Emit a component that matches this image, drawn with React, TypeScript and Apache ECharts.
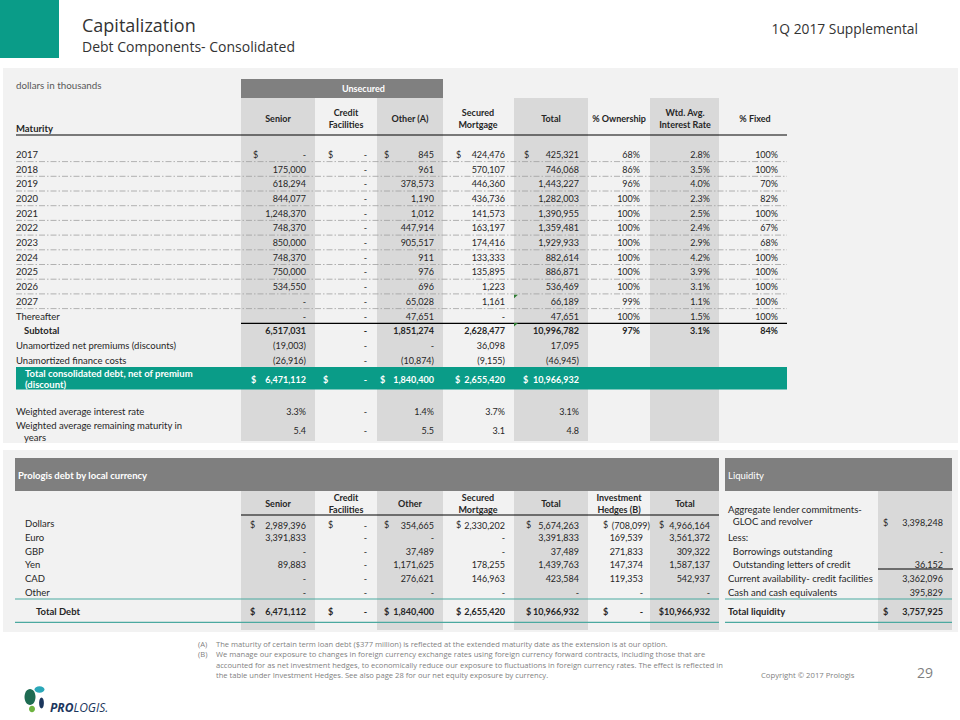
import React, { useEffect, useRef } from "react";
import * as echarts from "echarts";

// ---------------- DATA ----------------
const maturities = ["2017", "2018", "2019", "2020", "2021", "2022", "2023", "2024", "2025", "2026", "2027", "Thereafter"];
const seniorByYear = [0, 175000, 618294, 844077, 1248370, 748370, 850000, 748370, 750000, 534550, 0, 0];
const creditByYear = [0, 0, 0, 0, 0, 0, 0, 0, 0, 0, 0, 0];
const otherByYear = [845, 961, 378573, 1190, 1012, 447914, 905517, 911, 976, 696, 65028, 47651];
const securedByYear = [424476, 570107, 446360, 436736, 141573, 163197, 174416, 133333, 135895, 1223, 1161, 0];
const totalByYear = [425321, 746068, 1443227, 1282003, 1390955, 1359481, 1929933, 882614, 886871, 536469, 66189, 47651];
const ownershipPct = [68, 86, 96, 100, 100, 100, 100, 100, 100, 100, 99, 100];
const interestRatePct = [2.8, 3.5, 4.0, 2.3, 2.5, 2.4, 2.9, 4.2, 3.9, 3.1, 1.1, 1.5];
const fixedPct = [100, 100, 70, 82, 100, 67, 68, 100, 100, 100, 100, 100];

const subtotalValues = [6517031, 0, 1851274, 2628477, 10996782];
const subtotalPcts = [97, 3.1, 84];
const netPremiums = [-19003, 0, 0, 36098, 17095];
const financeCosts = [-26916, 0, -10874, -9155, -46945];
const totalConsolidated = [6471112, 0, 1840400, 2655420, 10966932];
const wtdInterestRate = [3.3, 0, 1.4, 3.7, 3.1];
const wtdRemainingMaturity = [5.4, 0, 5.5, 3.1, 4.8];

const topHeaders = [["Senior"], ["Credit", "Facilities"], ["Other (A)"], ["Secured", "Mortgage"], ["Total"], ["% Ownership"], ["Wtd. Avg.", "Interest Rate"], ["% Fixed"]];

const currencies = ["Dollars", "Euro", "GBP", "Yen", "CAD", "Other"];
const curSenior = [2989396, 3391833, 0, 89883, 0, 0];
const curCredit = [0, 0, 0, 0, 0, 0];
const curOther = [354665, 0, 37489, 1171625, 276621, 0];
const curSecured = [2330202, 0, 0, 178255, 146963, 0];
const curTotal = [5674263, 3391833, 37489, 1439763, 423584, 0];
const curHedges = [-708099, 169539, 271833, 147374, 119353, 0];
const curNetTotal = [4966164, 3561372, 309322, 1587137, 542937, 0];
const totalDebtRow = [6471112, 0, 1840400, 2655420, 10966932, 0, 10966932];
const bottomHeaders = [["Senior"], ["Credit", "Facilities"], ["Other"], ["Secured", "Mortgage"], ["Total"], ["Investment", "Hedges (B)"], ["Total"]];

const liquidityLabels = [["Aggregate lender commitments-", "  GLOC and revolver"], ["Less:"], ["  Borrowings outstanding"], ["  Outstanding letters of credit"], ["Current availability- credit facilities"], ["Cash and cash equivalents"]];
const liquidityValues: (number | null)[] = [3398248, null, 0, 36152, 3362096, 395829];
const totalLiquidity = 3757925;

const footnotes = [
  ["(A)", ["The maturity of certain term loan debt ($377 million) is reflected at the extended maturity date as the extension is at our option."]],
  ["(B)", [
    "We manage our exposure to changes in foreign currency exchange rates using foreign currency forward contracts, including those that are",
    "accounted for as net investment hedges, to economically reduce our exposure to fluctuations in foreign currency rates. The effect is reflected in",
    "the table under Investment Hedges. See also page 28 for our net equity exposure by currency.",
  ]],
] as [string, string[]][];

// ---------------- STYLE ----------------
const FONT = "Lato";
const INK = "#262626";
const TEAL = "#0A9C88";
const SHADE = "#D9D9D9";
const PANEL = "#F2F2F2";
const DARK = "#808080";
const LBL = 9.5;

function fmtNum(v: number): string {
  if (v === 0) return "-";
  const s = Math.abs(v).toLocaleString("en-US");
  return v < 0 ? `(${s})` : s;
}

function txt(text: string, x: number, y: number, o: any = {}): any {
  const align = o.align || "left";
  return {
    type: "text",
    x,
    y,
    silent: true,
    z: 10,
    style: {
      text,
      fill: o.fill || INK,
      fontSize: o.size || 9,
      fontFamily: o.family || FONT,
      fontWeight: o.bold ? "bold" : "normal",
      fontStyle: o.italic ? "italic" : "normal",
      textAlign: align,
      align,
      textVerticalAlign: "middle",
      verticalAlign: "middle",
    },
  };
}
function rect(x: number, y: number, w: number, h: number, fill: string, z = 1): any {
  return { type: "rect", silent: true, z, shape: { x, y, width: w, height: h }, style: { fill } };
}
function line(x1: number, y1: number, x2: number, y2: number, stroke: string, lw = 1, dash?: number[]): any {
  return { type: "line", silent: true, z: 5, shape: { x1, y1, x2, y2 }, style: { stroke, lineWidth: lw, lineDash: dash } };
}

function buildGraphic(): any[] {
  const g: any[] = [];
  // header
  g.push(rect(0, 0, 59, 58, TEAL));
  g.push(txt("Capitalization", 82, 25, { size: 18, family: "Open Sans", fill: "#333333" }));
  g.push(txt("Debt Components- Consolidated", 82, 46, { size: 14, family: "Open Sans", fill: "#333333" }));
  g.push(txt("1Q 2017 Supplemental", 918, 28, { size: 13.8, family: "Open Sans", fill: "#333333", align: "right" }));

  // panels
  g.push(rect(3, 68, 955, 564, PANEL, 0));

  // ---------- top table ----------
  const shadeCols = [[241, 74], [377, 66], [514, 74], [650, 69]];
  shadeCols.forEach(([x, w]) => g.push(rect(x, 98, w, 343, SHADE, 1)));
  g.push(rect(241, 79, 202, 19, DARK, 2));
  g.push(txt("Unsecured", 342, 88.5, { bold: true, fill: "#ffffff" }));
  g.push(txt("dollars in thousands", 16, 85, { size: 9.8, fill: "#595959" }));
  g.push(txt("Maturity", 16, 128, { bold: true, size: LBL }));

  const hdrCenters = [278, 346, 410, 478, 551, 619, 685, 755];
  topHeaders.forEach((h, i) => {
    if (h.length === 1) g.push(txt(h[0], hdrCenters[i], 118, { bold: true, align: "center" }));
    else {
      g.push(txt(h[0], hdrCenters[i], 112, { bold: true, align: "center" }));
      g.push(txt(h[1], hdrCenters[i], 124, { bold: true, align: "center" }));
    }
  });
  g.push(line(16, 135, 787, 135, "#000000", 1.2));

  const rights = [306, 367, 434, 505, 579];
  const dollars = [253, 328, 384, 456, 524];
  const pctRights = [640, 710, 778];
  const rowY = (i: number) => 154.3 + i * 14.7;
  const yearCols = [seniorByYear, creditByYear, otherByYear, securedByYear, totalByYear];

  maturities.forEach((m, i) => {
    const y = rowY(i);
    g.push(txt(m, 16, y, { size: LBL }));
    yearCols.forEach((col, c) => {
      g.push(txt(fmtNum(col[i]), rights[c], y, { align: "right" }));
      if (i === 0) g.push(txt("$", dollars[c], y));
    });
    g.push(txt(ownershipPct[i] + "%", pctRights[0], y, { align: "right" }));
    g.push(txt(interestRatePct[i].toFixed(1) + "%", pctRights[1], y, { align: "right" }));
    g.push(txt(fixedPct[i] + "%", pctRights[2], y, { align: "right" }));
    if (i < maturities.length - 1) g.push(line(16, y + 7.3, 787, y + 7.3, "#a0a0a0", 0.8, [6, 2, 1.5, 2]));
    else g.push(line(241, y + 7.3, 787, y + 7.3, "#000000", 1.2));
  });
  // Excel indicator triangles
  [rowY(10) - 6.5, rowY(11) + 7].forEach((ty) =>
    g.push({ type: "polygon", silent: true, z: 6, shape: { points: [[514, ty], [518, ty], [514, ty + 3.5]] }, style: { fill: "#2E7D32" } })
  );

  // subtotal
  const ySub = rowY(12);
  g.push(txt("Subtotal", 24, ySub, { bold: true, size: LBL }));
  subtotalValues.forEach((v, c) => g.push(txt(fmtNum(v), rights[c], ySub, { align: "right", bold: true })));
  g.push(txt(subtotalPcts[0] + "%", pctRights[0], ySub, { align: "right", bold: true }));
  g.push(txt(subtotalPcts[1].toFixed(1) + "%", pctRights[1], ySub, { align: "right", bold: true }));
  g.push(txt(subtotalPcts[2] + "%", pctRights[2], ySub, { align: "right", bold: true }));

  const yPrem = rowY(13);
  g.push(txt("Unamortized net premiums (discounts)", 16, yPrem, { size: LBL }));
  netPremiums.forEach((v, c) => g.push(txt(fmtNum(v), rights[c], yPrem, { align: "right" })));
  const yFin = rowY(14);
  g.push(txt("Unamortized finance costs", 16, yFin, { size: LBL }));
  financeCosts.forEach((v, c) => g.push(txt(fmtNum(v), rights[c], yFin, { align: "right" })));

  // teal total row
  g.push(rect(16, 367, 771, 22.5, TEAL, 3));
  g.push(txt("Total consolidated debt, net of premium", 25, 373.5, { bold: true, fill: "#ffffff", size: LBL }));
  g.push(txt("(discount)", 25, 384.5, { bold: true, fill: "#ffffff", size: LBL }));
  const tealDollars = [251, 323, 380, 455, 523];
  totalConsolidated.forEach((v, c) => {
    g.push(txt(fmtNum(v), rights[c], 379, { align: "right", bold: true, fill: "#ffffff" }));
    g.push(txt("$", tealDollars[c], 379, { bold: true, fill: "#ffffff" }));
  });

  g.push(txt("Weighted average interest rate", 16, 411.7, { size: LBL }));
  wtdInterestRate.forEach((v, c) => g.push(txt(v === 0 ? "-" : v.toFixed(1) + "%", rights[c], 411.7, { align: "right" })));
  g.push(txt("Weighted average remaining maturity in", 16, 425.5, { size: LBL }));
  g.push(txt("years", 24, 437, { size: LBL }));
  wtdRemainingMaturity.forEach((v, c) => g.push(txt(v === 0 ? "-" : v.toFixed(1), rights[c], 430, { align: "right" })));

  // ---------- bottom table ----------
  g.push(rect(3, 443, 955, 7, "#ffffff", 0.5));
  g.push(rect(15, 458, 704, 33, "#7F7F7F", 2));
  g.push(txt("Prologis debt by local currency", 18, 475, { bold: true, fill: "#ffffff", size: LBL }));
  g.push(rect(725, 458, 227, 33, "#7F7F7F", 2));
  g.push(txt("Liquidity", 728, 475, { fill: "#ffffff", size: LBL }));

  const bShade = [[241, 74], [377, 66], [514, 74], [650, 69], [878, 74]];
  bShade.forEach(([x, w]) => g.push(rect(x, 491, w, 139, SHADE, 1)));
  const bCenters = [278, 346, 410, 478, 551, 619, 685];
  bottomHeaders.forEach((h, i) => {
    if (h.length === 1) g.push(txt(h[0], bCenters[i], 503, { bold: true, align: "center" }));
    else {
      g.push(txt(h[0], bCenters[i], 497, { bold: true, align: "center" }));
      g.push(txt(h[1], bCenters[i], 509, { bold: true, align: "center" }));
    }
  });
  g.push(line(241, 515, 719, 515, "#000000", 1.2));

  const bRights = [306, 367, 434, 505, 579, 643, 710];
  const bNegShift = [0, 0, 0, 0, 0, 7, 0];
  const bDollars = [250, 328, 384, 456, 526, 603, 659];
  const bCols = [curSenior, curCredit, curOther, curSecured, curTotal, curHedges, curNetTotal];
  const bRowY = (i: number) => 523.3 + i * 13.85;
  currencies.forEach((cur, i) => {
    const y = bRowY(i);
    g.push(txt(cur, 25, y, { size: LBL }));
    bCols.forEach((col, c) => {
      const v = col[i];
      g.push(txt(fmtNum(v), bRights[c] + (v < 0 ? bNegShift[c] : 0), i === 0 ? y + 2 : y, { align: "right" }));
      if (i === 0) g.push(txt("$", bDollars[c], y + 1));
    });
  });
  g.push(line(15, 599, 719, 599, "#4BA9A0", 1.2));
  g.push(line(15, 622.3, 719, 622.3, "#4BA9A0", 1.2));
  g.push(txt("Total Debt", 36, 611.5, { bold: true, size: LBL }));
  const tdDollars = [250, 328, 384, 456, 526, 603, -1];
  totalDebtRow.forEach((v, c) => {
    if (tdDollars[c] < 0) {
      g.push(txt("$" + fmtNum(v), bRights[c], 611.5, { align: "right", bold: true }));
    } else {
      g.push(txt(fmtNum(v), bRights[c], 611.5, { align: "right", bold: true }));
      g.push(txt("$", tdDollars[c], 611.5, { bold: true }));
    }
  });

  // liquidity
  liquidityLabels.forEach((lab, i) => {
    const y = bRowY(i);
    if (lab.length === 2) {
      g.push(txt(lab[0], 728, 509.5, { size: LBL }));
      g.push(txt(lab[1], 728, 521, { size: LBL }));
    } else g.push(txt(lab[0], 728, y, { size: LBL }));
    const v = liquidityValues[i];
    if (v !== null) {
      g.push(txt(fmtNum(v), 943, i === 0 ? y - 1 : y, { align: "right" }));
      if (i === 0) g.push(txt("$", 883, y - 1));
    }
  });
  g.push(line(878, 569, 953, 569, "#000000", 1.2));
  g.push(line(725, 599, 952, 599, "#4BA9A0", 1.2));
  g.push(line(725, 622.3, 952, 622.3, "#4BA9A0", 1.2));
  g.push(txt("Total liquidity", 728, 611.5, { bold: true, size: LBL }));
  g.push(txt(fmtNum(totalLiquidity), 943, 611.5, { bold: true, align: "right" }));
  g.push(txt("$", 883, 611.5, { bold: true }));

  // ---------- footer ----------
  let fy = 644.3;
  footnotes.forEach(([tag, lines]) => {
    g.push(txt(tag, 198, fy, { size: 7.6, family: "Open Sans", fill: "#7f7f7f" }));
    lines.forEach((l) => {
      g.push(txt(l, 216, fy, { size: 7.6, family: "Open Sans", fill: "#7f7f7f" }));
      fy += 10.1;
    });
  });
  g.push(txt("Copyright \u00A9 2017 Prologis", 761, 674.5, { size: 7.7, family: "Open Sans", fill: "#7f7f7f" }));
  g.push(txt("29", 917, 672.5, { size: 14, family: "Open Sans", fill: "#7f7f7f" }));

  // logo
  g.push({ type: "ellipse", silent: true, z: 6, shape: { cx: 30, cy: 697, rx: 5.5, ry: 8 }, style: { fill: "#1E6B52" } });
  g.push({ type: "ellipse", silent: true, z: 6, shape: { cx: 39.5, cy: 689.5, rx: 5, ry: 3.2 }, style: { fill: "#2AA7B8" } });
  g.push({ type: "ellipse", silent: true, z: 6, shape: { cx: 32, cy: 709, rx: 3, ry: 3.2 }, style: { fill: "#6DB33F" } });
  g.push({ type: "ellipse", silent: true, z: 6, shape: { cx: 41.5, cy: 703, rx: 2.4, ry: 5.5 }, style: { fill: "#1B365D" } });
  g.push({
    type: "text", x: 50, y: 707.5, silent: true, z: 10,
    style: {
      text: "{a|PRO}{b|LOGIS.}", verticalAlign: "middle", textVerticalAlign: "middle",
      rich: {
        a: { fontSize: 12, fontWeight: "bold", fontStyle: "italic", fontFamily: "Open Sans", fill: "#1B365D", color: "#1B365D" },
        b: { fontSize: 12, fontWeight: "normal", fontStyle: "italic", fontFamily: "Open Sans", fill: "#1B365D", color: "#1B365D" },
      },
    },
  });
  return g;
}

export default function App() {
  const ref = useRef<HTMLDivElement>(null);
  useEffect(() => {
    if (!ref.current) return;
    const chart = echarts.init(ref.current, undefined, { renderer: "svg" });
    chart.setOption({ animation: false, backgroundColor: "#ffffff", graphic: { elements: buildGraphic() } });
    return () => chart.dispose();
  }, []);
  return <div ref={ref} style={{ position: "fixed", left: 0, top: 0, width: 960, height: 720 }} />;
}
